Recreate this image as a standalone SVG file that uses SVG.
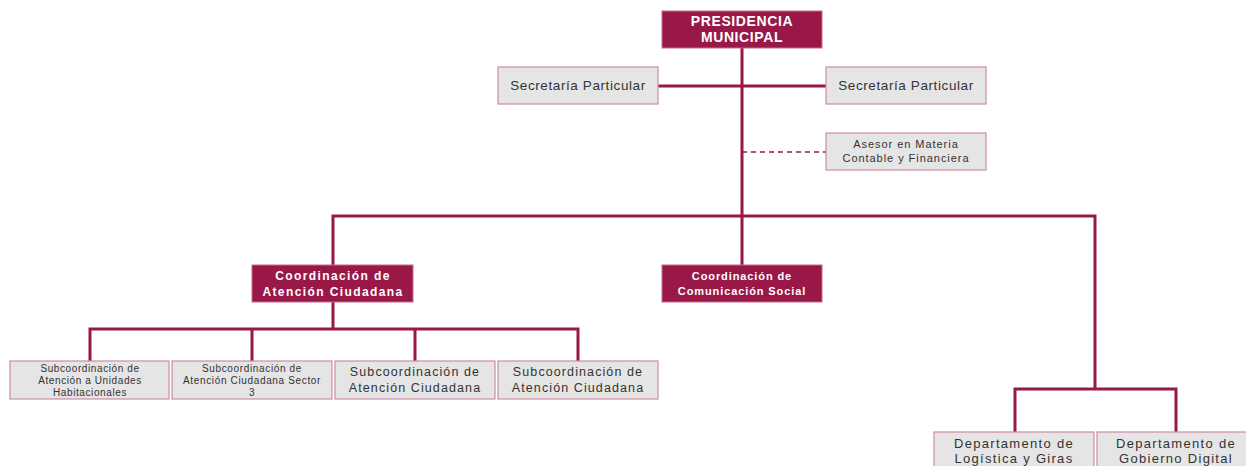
<svg xmlns="http://www.w3.org/2000/svg" width="1246" height="466" viewBox="0 0 1246 466">
<style>
.m{fill:#9a1848;stroke:#c76a8c;stroke-width:1}
.g{fill:#e5e5e5;stroke:#cf8aa3;stroke-width:1.2}
.tw{font-family:"Liberation Sans",Arial,sans-serif;fill:#fff;font-weight:bold;text-anchor:middle}
.tg{font-family:"Liberation Sans",Arial,sans-serif;fill:#333;text-anchor:middle}
.c{stroke:#9a1848;stroke-width:3;fill:none}
.d{stroke:#9a1848;stroke-width:1.6;fill:none;stroke-dasharray:5 4}
</style>
<rect width="1246" height="466" fill="#fff"/>
<g id="connectors">
<path class="c" d="M742 48V216M658 86H826M333 265V216H1095V388M742 216V265"/>
<path class="d" d="M742 152H826"/>
<path class="c" d="M333 302V329M90 361V329H578V361M252 329V361M415 329V361"/>
<path class="c" d="M1015 432V389H1176V432"/>
</g>
<g id="presidencia"><rect class="m" x="662" y="11" width="160" height="37"/>
<text class="tw" x="742" y="26" font-size="14" letter-spacing="0.6">PRESIDENCIA</text>
<text class="tw" x="742" y="42" font-size="14" letter-spacing="0.6">MUNICIPAL</text></g>
<g id="secretaria1"><rect class="g" x="498" y="67" width="160" height="37"/>
<text class="tg" x="578" y="90" font-size="13.5" letter-spacing="0.6">Secretaría Particular</text></g>
<g id="secretaria2"><rect class="g" x="826" y="67" width="160" height="37"/>
<text class="tg" x="906" y="90" font-size="13.5" letter-spacing="0.6">Secretaría Particular</text></g>
<g id="asesor"><rect class="g" x="826" y="133" width="160" height="37"/>
<text class="tg" x="906" y="148" font-size="11" letter-spacing="0.95">Asesor en Materia</text>
<text class="tg" x="906" y="162" font-size="11" letter-spacing="0.95">Contable y Financiera</text></g>
<g id="coord-atencion"><rect class="m" x="252" y="265" width="161" height="37"/>
<text class="tw" x="333" y="280" font-size="12" letter-spacing="1.4">Coordinación de</text>
<text class="tw" x="333" y="296" font-size="12" letter-spacing="1.4">Atención Ciudadana</text></g>
<g id="coord-comunicacion"><rect class="m" x="662" y="265" width="160" height="37"/>
<text class="tw" x="742" y="280" font-size="11" letter-spacing="0.9">Coordinación de</text>
<text class="tw" x="742" y="295" font-size="11" letter-spacing="0.9">Comunicación Social</text></g>
<g id="sub1"><rect class="g" x="10" y="361" width="159" height="38"/>
<text class="tg" x="90" y="372" font-size="10" letter-spacing="0.6">Subcoordinación de</text>
<text class="tg" x="90" y="384" font-size="10" letter-spacing="0.6">Atención a Unidades</text>
<text class="tg" x="90" y="395.5" font-size="10" letter-spacing="0.6">Habitacionales</text></g>
<g id="sub2"><rect class="g" x="172" y="361" width="160" height="38"/>
<text class="tg" x="252" y="372" font-size="10" letter-spacing="0.65">Subcoordinación de</text>
<text class="tg" x="252" y="384" font-size="10" letter-spacing="0.65">Atención Ciudadana Sector</text>
<text class="tg" x="252" y="395.5" font-size="10" letter-spacing="0.65">3</text></g>
<g id="sub3"><rect class="g" x="335" y="361" width="160" height="38"/>
<text class="tg" x="415" y="376" font-size="12.5" letter-spacing="1.1">Subcoordinación de</text>
<text class="tg" x="415" y="392" font-size="12.5" letter-spacing="1.1">Atención Ciudadana</text></g>
<g id="sub4"><rect class="g" x="498" y="361" width="160" height="38"/>
<text class="tg" x="578" y="376" font-size="12.5" letter-spacing="1.1">Subcoordinación de</text>
<text class="tg" x="578" y="392" font-size="12.5" letter-spacing="1.1">Atención Ciudadana</text></g>
<g id="depto-logistica"><rect class="g" x="934" y="432" width="160" height="40"/>
<text class="tg" x="1014" y="448" font-size="13" letter-spacing="1.3">Departamento de</text>
<text class="tg" x="1014" y="463" font-size="13" letter-spacing="1.3">Logística y Giras</text></g>
<g id="depto-gobierno"><rect class="g" x="1097" y="432" width="160" height="40"/>
<text class="tg" x="1176" y="448" font-size="13" letter-spacing="1.3">Departamento de</text>
<text class="tg" x="1176" y="463" font-size="13" letter-spacing="1.3">Gobierno Digital</text></g>
</svg>
